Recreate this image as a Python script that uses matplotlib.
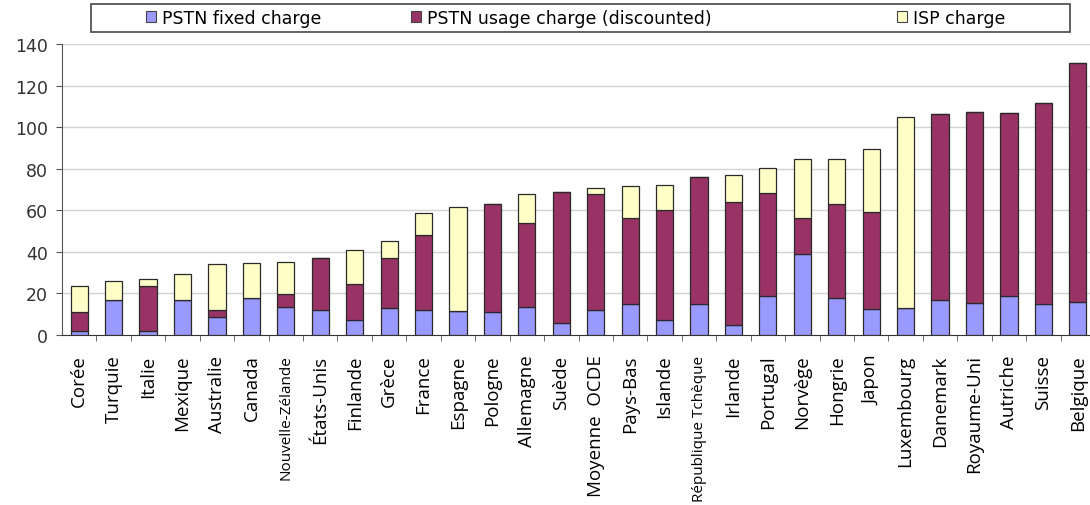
import numpy as np
import matplotlib
matplotlib.use("Agg")
from matplotlib import pyplot as plt
from matplotlib.patches import Patch, Rectangle

# values
countries = ["Corée", "Turquie", "Italie", "Mexique", "Australie", "Canada",
             "Nouvelle-Zélande", "États-Unis", "Finlande", "Grèce", "France",
             "Espagne", "Pologne", "Allemagne", "Suède", "Moyenne  OCDE",
             "Pays-Bas", "Islande", "République Tchèque", "Irlande", "Portugal",
             "Norvège", "Hongrie", "Japon", "Luxembourg", "Danemark",
             "Royaume-Uni", "Autriche", "Suisse", "Belgique"]
small_labels = ["Nouvelle-Zélande", "République Tchèque"]

fixed = [2, 17, 2, 17, 8.5, 18, 13.5, 12, 7, 13, 12, 11.5, 11, 13.5, 6, 12,
         15, 7, 15, 5, 19, 39, 18, 12.5, 13, 17, 15.5, 19, 15, 16]
usage = [9, 0, 21.5, 0, 3.5, 0, 6, 25, 17.5, 24, 36, 0, 52, 40.5, 63, 56,
         41.5, 53, 61, 59, 49.5, 17.5, 45, 46.5, 0, 89.5, 92, 88, 96.5, 115]
isp = [12.5, 9, 3.5, 12.5, 22, 16.5, 15.5, 0, 16.5, 8, 10.5, 50, 0, 14, 0, 2.5,
       15, 12, 0, 13, 12, 28, 21.5, 30.5, 92, 0, 0, 0, 0, 0]

c_fixed = "#9999ff"
c_usage = "#993366"
c_isp = "#ffffc8"
edge = "#2a2a2a"

W, H = 1090, 506
fig = plt.figure(figsize=(W / 100, H / 100), dpi=100)
ax = fig.add_axes([62 / W, 170 / H, 1033 / W, 291 / H])

x = np.arange(len(countries))
fixed = np.array(fixed)
usage = np.array(usage)
isp = np.array(isp)
bw = 0.5
kw = dict(width=bw, edgecolor=edge, linewidth=0.9, zorder=3)
ax.bar(x, fixed, color=c_fixed, **kw)
ax.bar(x, usage, bottom=fixed, color=c_usage, **kw)
ax.bar(x, isp, bottom=fixed + usage, color=c_isp, **kw)

ax.set_xlim(-0.5, len(countries) - 0.5)
ax.set_ylim(0, 140)
ax.set_yticks(range(0, 141, 20))
for yv in range(20, 141, 20):
    ax.axhline(yv, color="#d2d2d2", lw=1, zorder=1)

ax.spines["top"].set_visible(False)
ax.spines["right"].set_visible(False)
ax.spines["left"].set_color("#555555")
ax.spines["bottom"].set_color("#333333")

ax.tick_params(axis="y", direction="out", length=4, color="#555555",
               labelsize=12.5, labelcolor="#333333", pad=6)
for lab in ax.get_yticklabels():
    lab.set_family("DejaVu Sans")

ax.set_xticks(x)
ax.set_xticklabels(countries, rotation=90, family="Open Sans", fontsize=13.5)
ax.tick_params(axis="x", which="major", length=0, pad=14)
ax.set_xticks(np.arange(0.5, len(countries) - 0.5), minor=True)
ax.tick_params(axis="x", which="minor", direction="out", length=4, color="#555555")
for lab in ax.get_xticklabels():
    if lab.get_text() in small_labels:
        lab.set_fontsize(11)

# legend box across the top
fig.add_artist(Rectangle((91 / W, 1 - 33 / H), 979 / W, 28 / H, transform=fig.transFigure,
                         fill=False, edgecolor="#555555", lw=1.3))
entries = [("PSTN fixed charge", c_fixed, 146),
           ("PSTN usage charge (discounted)", c_usage, 411),
           ("ISP charge", c_isp, 897)]
for label, col, px in entries:
    fig.legend(handles=[Patch(facecolor=col, edgecolor="#444444", lw=0.8, label=label)],
               loc="center left", bbox_to_anchor=(px / W, 1 - 19 / H),
               frameon=False, borderpad=0, borderaxespad=0, handlelength=0.6,
               handleheight=0.6, handletextpad=0.3,
               prop={"family": "DejaVu Sans", "size": 12.5})

fig.savefig("out.png", dpi=100)
